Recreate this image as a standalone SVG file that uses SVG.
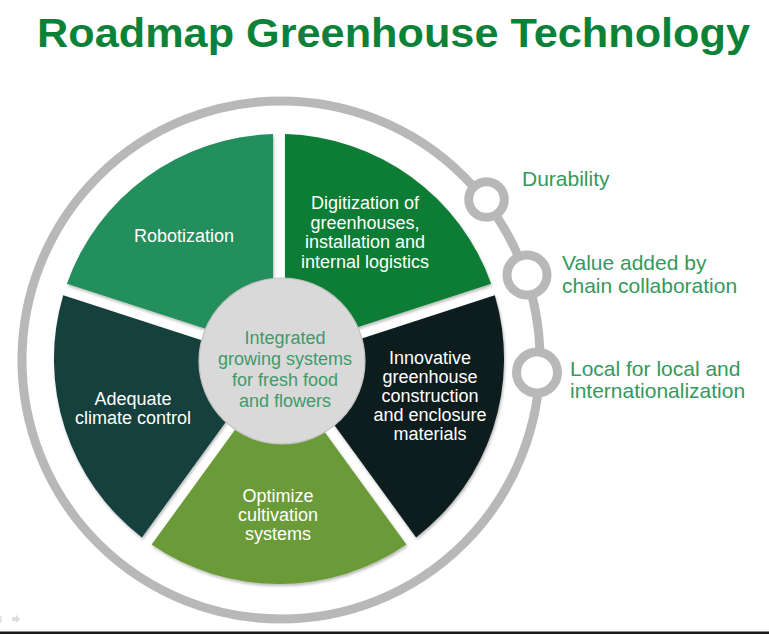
<svg xmlns="http://www.w3.org/2000/svg" width="769" height="634" viewBox="0 0 769 634">
  <defs>
    <filter id="shadow" x="-10%" y="-10%" width="120%" height="120%">
      <feDropShadow dx="1" dy="2" stdDeviation="1.5" flood-color="#000" flood-opacity="0.28"/>
    </filter>
    <style>
      .title { font-family: "Liberation Sans", Arial, sans-serif; font-weight: bold; font-size: 40px; fill: #0B8238; }
      .wtext { font-family: "Liberation Sans", Arial, sans-serif; font-size: 18px; fill: #FFFFFF; text-anchor: middle; }
      .ctext { font-family: "Liberation Sans", Arial, sans-serif; font-size: 18px; fill: #3F9A6B; text-anchor: middle; }
      .ltext { font-family: "Liberation Sans", Arial, sans-serif; font-size: 21px; fill: #33995E; }
      .wedge { filter: url(#shadow); }
      .ring { fill: none; stroke: #B8B8B8; stroke-width: 9; }
      .knot { fill: #FFFFFF; stroke: #B8B8B8; stroke-width: 9; }
    </style>
  </defs>

  <rect x="0" y="0" width="769" height="634" fill="#FFFFFF"/>

  <text class="title" x="37" y="47" textLength="713" lengthAdjust="spacingAndGlyphs">Roadmap Greenhouse Technology</text>

  <g id="connectors">
    <circle class="ring" cx="281" cy="360" r="259"/>
  </g>

  <g id="node-robotization">
    <path class="wedge" d="M273,350.7 L66.9,283.8 A225,225 0 0 1 273,134.1 Z" fill="#238F5B"/>
    <text class="wtext" x="184" y="242">Robotization</text>
  </g>

  <g id="node-digitization">
    <path class="wedge" d="M285,350.7 L285,134.1 A225,225 0 0 1 491.1,283.8 Z" fill="#087B35"/>
    <text class="wtext" x="365" y="209">Digitization of</text>
    <text class="wtext" x="365" y="228.7">greenhouses,</text>
    <text class="wtext" x="365" y="248.4">installation and</text>
    <text class="wtext" x="365" y="268">internal logistics</text>
  </g>

  <g id="node-innovative">
    <path class="wedge" d="M288.7,362.2 L494.8,295.2 A225,225 0 0 1 416.1,537.4 Z" fill="#0C1F1E"/>
    <text class="wtext" x="430" y="364">Innovative</text>
    <text class="wtext" x="430" y="383">greenhouse</text>
    <text class="wtext" x="430" y="402">construction</text>
    <text class="wtext" x="430" y="421">and enclosure</text>
    <text class="wtext" x="430" y="440">materials</text>
  </g>

  <g id="node-optimize">
    <path class="wedge" d="M279,369.2 L406.4,544.5 A225,225 0 0 1 151.6,544.5 Z" fill="#6B9B37"/>
    <text class="wtext" x="278" y="502">Optimize</text>
    <text class="wtext" x="278" y="521">cultivation</text>
    <text class="wtext" x="278" y="540">systems</text>
  </g>

  <g id="node-adequate">
    <path class="wedge" d="M269.3,362.2 L141.9,537.4 A225,225 0 0 1 63.2,295.2 Z" fill="#123F3C"/>
    <text class="wtext" x="133" y="405">Adequate</text>
    <text class="wtext" x="133" y="424">climate control</text>
  </g>

  <g id="node-center">
    <circle cx="282" cy="361" r="83" fill="#D9D9D9" stroke="#C2C2C2" stroke-width="1.2"/>
    <text class="ctext" x="285" y="344">Integrated</text>
    <text class="ctext" x="285" y="365">growing systems</text>
    <text class="ctext" x="285" y="386">for fresh food</text>
    <text class="ctext" x="285" y="407">and flowers</text>
  </g>

  <g id="node-durability">
    <circle class="knot" cx="486.5" cy="199.5" r="17.8" stroke-width="8.5"/>
    <text class="ltext" x="522" y="185.5">Durability</text>
  </g>

  <g id="node-value">
    <circle class="knot" cx="527" cy="275" r="20"/>
    <text class="ltext" x="562" y="269.5">Value added by</text>
    <text class="ltext" x="562" y="292.5">chain collaboration</text>
  </g>

  <g id="node-local">
    <circle class="knot" cx="537" cy="372.5" r="20.5"/>
    <text class="ltext" x="570" y="375.5">Local for local and</text>
    <text class="ltext" x="570" y="397.5">internationalization</text>
  </g>

  <rect x="0" y="616" width="2" height="7" fill="#E6E6E6"/>
  <polygon points="12,617 16,617 16,614.5 20,619 16,623.5 16,621 12,621" fill="#DEDEDE"/>
  <rect x="0" y="631.5" width="769" height="2.5" fill="#1A1A1A"/>
</svg>
